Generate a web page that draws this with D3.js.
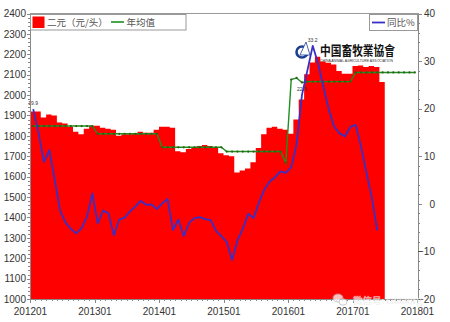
<!DOCTYPE html>
<html>
<head>
<meta charset="utf-8">
<script src="https://cdn.jsdelivr.net/npm/d3@7"></script>
<style>
  html, body { margin: 0; padding: 0; background: #fff; }
  #chart { width: 450px; height: 322px; }
  .axis text { font-family: "Liberation Sans", Arial, sans-serif; font-size: 10px; fill: #333; }
  .axis path, .axis line { stroke: #888; shape-rendering: crispEdges; }
</style>
</head>
<body>
<div id="chart"></div>
<script>
// monthly series, index 0 = 201201
const yearTicks = ['201201', '201301', '201401', '201501', '201601', '201701', '201801'];

// 二元 price (元/头), one value per month 201201..201706
const price = [
  1920, 1920, 1890, 1905, 1900, 1865, 1860, 1845, 1820, 1808, 1835, 1850,
  1850, 1840, 1835, 1830, 1800, 1808, 1808, 1812, 1820, 1815, 1815, 1830,
  1845, 1845, 1840, 1725, 1720, 1735, 1745, 1750, 1755, 1750, 1740, 1715,
  1705, 1700, 1620, 1630, 1640, 1670, 1740, 1808, 1840, 1845, 1835, 1830,
  1810, 1880, 1978, 2102, 2160, 2188, 2165, 2158, 2150, 2118, 2105, 2105,
  2143, 2145, 2138, 2142, 2138, 2064
];

// 年均值, monthly points 201201..201712
const yearAvg = [
  1848, 1848, 1848, 1848, 1848, 1848, 1848, 1848, 1848, 1848, 1848, 1848,
  1810, 1810, 1810, 1810, 1810, 1810, 1810, 1810, 1810, 1810, 1810, 1810,
  1744, 1744, 1744, 1744, 1744, 1744, 1744, 1744, 1744, 1744, 1744, 1744,
  1723, 1723, 1723, 1723, 1723, 1723, 1723, 1723, 1723, 1723, 1723, 1668,
  2076, 2084, 2062, 2066, 2066, 2066, 2066, 2066, 2066, 2066, 2066, 2066,
  2111, 2111, 2111, 2111, 2111, 2111, 2111, 2111, 2111, 2111, 2111, 2111
];

// 同比% (right axis), 201201..201705
const yoy = [
  19.9, 14.8, 8.8, 11.3, 5.1, -1.5, -3.9, -5.3, -6.2, -5.1, -2.7, 2.2,
  -4.1, -1.4, -2.0, -6.6, -3.3, -2.9, -1.6, -0.6, 0.6, -0.2, -0.1, -1.1,
  0.1, 1.0, -5.5, -3.3, -6.8, -4.0, -3.0, -2.8, -3.2, -3.4, -5.7, -6.8,
  -8.0, -11.8, -7.7, -5.2, -2.1, -3.0, 0.3, 3.0, 4.7, 5.6, 6.8, 6.5,
  7.7, 12.5, 22.9, 28.0, 33.2, 29.5, 24.5, 19.8, 16.2, 14.8, 14.2, 16.2,
  16.6, 12.0, 6.5, 1.3, -5.6
];

const leftTicks = [1000, 1100, 1200, 1300, 1400, 1500, 1600, 1700, 1800, 1900, 2000, 2100, 2200, 2300, 2400];
const rightTicks = [-20, -10, 0, 10, 20, 30, 40];

const CONFIG = {
  LEFT: 30, RIGHT: 417, TOP: 13.5, BOTTOM: 299,
  RED: '#ff0000',
  GREEN: '#1f8f1f',
  GREEN_DOT: '#2c5f16',
  BLUE: '#3a2fc4',
  POINT_OFFSET: 0.6   // line points sit inside their month
};

const svg = d3.select('#chart').append('svg')
  .attr('width', 450).attr('height', 322);

const x = d3.scaleLinear().domain([0, 72]).range([CONFIG.LEFT, CONFIG.RIGHT]);
const yL = d3.scaleLinear().domain([1000, 2400]).range([CONFIG.BOTTOM, CONFIG.TOP]);
const yR = d3.scaleLinear().domain([-20, 40]).range([CONFIG.BOTTOM, CONFIG.TOP]);

// red step area: each month is a flat block [i, i+1]
const areaData = price.map((v, i) => [i, v]).concat([[price.length, price[price.length - 1]]]);
svg.append('path')
  .datum(areaData)
  .attr('fill', CONFIG.RED)
  .attr('d', d3.area().curve(d3.curveStepAfter)
    .x(d => x(d[0])).y0(yL(1000)).y1(d => yL(d[1])));

// 年均值 line with dots
const lineL = d3.line().x((d, i) => x(i + CONFIG.POINT_OFFSET)).y(d => yL(d));
svg.append('path').datum(yearAvg)
  .attr('fill', 'none').attr('stroke', CONFIG.GREEN).attr('stroke-width', 1.4)
  .attr('d', lineL);
svg.append('g').selectAll('circle').data(yearAvg).join('circle')
  .attr('cx', (d, i) => x(i + CONFIG.POINT_OFFSET))
  .attr('cy', d => yL(d))
  .attr('r', 1.1)
  .attr('fill', CONFIG.GREEN_DOT);

// 同比 line
svg.append('path').datum(yoy)
  .attr('fill', 'none').attr('stroke', CONFIG.BLUE).attr('stroke-width', 1.8)
  .attr('stroke-linejoin', 'round')
  .attr('d', d3.line().x((d, i) => x(i + CONFIG.POINT_OFFSET)).y(d => yR(d)));

// the few readable point labels
[0, 50, 52].forEach(i => {
  svg.append('text')
    .attr('x', x(i + CONFIG.POINT_OFFSET)).attr('y', yR(yoy[i]) - 4)
    .attr('text-anchor', 'middle')
    .style('font-family', 'Liberation Sans, Arial').style('font-size', '5px')
    .attr('fill', '#333')
    .text(yoy[i].toFixed(1));
});

// frame
svg.append('rect')
  .attr('x', CONFIG.LEFT + 0.5).attr('y', CONFIG.TOP)
  .attr('width', 388).attr('height', CONFIG.BOTTOM - CONFIG.TOP)
  .attr('fill', 'none').attr('stroke', '#999').attr('shape-rendering', 'crispEdges');

/************************ AXES **********************/

// left axis, minor ticks every 20
svg.append('g').attr('class', 'axis')
  .attr('transform', `translate(${CONFIG.LEFT},0)`)
  .call(d3.axisLeft(yL).tickValues(d3.range(1000, 2401, 20)).tickSize(2).tickFormat(''));
svg.append('g').attr('class', 'axis')
  .attr('transform', `translate(${CONFIG.LEFT},0)`)
  .call(d3.axisLeft(yL).tickValues(leftTicks).tickSize(3).tickPadding(1).tickFormat(d3.format('d')));

// right axis
svg.append('g').attr('class', 'axis')
  .attr('transform', `translate(418,0)`)
  .call(d3.axisRight(yR).tickValues(d3.range(-20, 41, 2)).tickSize(2).tickFormat(''));
const rAxis = svg.append('g').attr('class', 'axis')
  .attr('transform', `translate(418,0)`)
  .call(d3.axisRight(yR).tickValues(rightTicks).tickSize(4).tickFormat(d3.format('d')));
rAxis.selectAll('text').attr('text-anchor', 'end').attr('x', 17);
rAxis.selectAll('.tick').filter(d => d === 40).select('text').attr('fill', '#aaa');

// bottom axis: monthly minor ticks, yearly labels
svg.append('g').attr('class', 'axis')
  .attr('transform', `translate(0,${CONFIG.BOTTOM})`)
  .call(d3.axisBottom(x).tickValues(d3.range(0, 73)).tickSize(2).tickFormat(''));
svg.append('g').attr('class', 'axis')
  .attr('transform', `translate(0,${CONFIG.BOTTOM})`)
  .call(d3.axisBottom(x).tickValues(d3.range(0, 73, 12)).tickSize(4).tickPadding(5)
    .tickFormat((d, i) => yearTicks[i]));

/************************ LEGENDS **********************/

const legendFont = '"Noto Sans CJK SC", "Noto Sans", sans-serif';

const legL = svg.append('g');
legL.append('rect').attr('x', 30.5).attr('y', 14.5).attr('width', 155.5).attr('height', 15.5)
  .attr('fill', '#fff').attr('stroke', '#999');
legL.append('rect').attr('x', 32.5).attr('y', 16.5).attr('width', 12).attr('height', 11.5)
  .attr('fill', CONFIG.RED);
legL.append('text').attr('x', 47).attr('y', 25.8).text('二元（元/头）')
  .style('font-family', legendFont).style('font-size', '9.5px').attr('fill', '#555');
legL.append('line').attr('x1', 111).attr('x2', 124).attr('y1', 22).attr('y2', 22)
  .attr('stroke', CONFIG.GREEN).attr('stroke-width', 1.6);
legL.append('text').attr('x', 126.5).attr('y', 25.8).text('年均值')
  .style('font-family', legendFont).style('font-size', '9.5px').attr('fill', '#555');

const legR = svg.append('g');
legR.append('rect').attr('x', 369.5).attr('y', 14.5).attr('width', 48).attr('height', 16)
  .attr('fill', '#fff').attr('stroke', '#999');
legR.append('line').attr('x1', 372).attr('x2', 385).attr('y1', 22.5).attr('y2', 22.5)
  .attr('stroke', CONFIG.BLUE).attr('stroke-width', 1.8);
legR.append('text').attr('x', 387).attr('y', 26.3).text('同比%')
  .style('font-family', legendFont).style('font-size', '9.5px').attr('fill', '#555');

/************************ LOGO & WATERMARK **********************/

const logo = svg.append('g');
logo.append('circle').attr('cx', 302).attr('cy', 52).attr('r', 5.5)
  .attr('fill', 'none').attr('stroke', '#1d3f8f').attr('stroke-width', 2.6);
logo.append('path').attr('d', 'M300,55 L306,42 L310,55 Z').attr('fill', '#fff')
  .attr('stroke', '#1d3f8f').attr('stroke-width', 0.8);
logo.append('text').attr('x', 320).attr('y', 55).text('中国畜牧業協會')
  .attr('textLength', 75).attr('lengthAdjust', 'spacingAndGlyphs')
  .style('font-family', '"Noto Sans CJK TC", serif').style('font-size', '13px')
  .style('font-weight', 'bold').attr('fill', '#111');
logo.append('text').attr('x', 320).attr('y', 61.5).text('CHINA ANIMAL AGRICULTURE ASSOCIATION')
  .attr('textLength', 73).attr('lengthAdjust', 'spacingAndGlyphs')
  .style('font-family', 'Liberation Sans, Arial').style('font-size', '3px').attr('fill', '#333');

// watermark sits on the bottom-right corner, as in the source image
const wm = svg.append('g').attr('opacity', 0.75);
wm.append('ellipse').attr('cx', 338).attr('cy', 298).attr('rx', 5).attr('ry', 4)
  .attr('fill', '#fff').attr('stroke', '#bbb');
wm.append('ellipse').attr('cx', 343).attr('cy', 302).attr('rx', 4).attr('ry', 3.2)
  .attr('fill', '#fff').attr('stroke', '#bbb');
wm.append('text').attr('x', 353).attr('y', 304).text('微信号: caaaorg')
  .style('font-family', legendFont).style('font-size', '9.5px')
  .attr('fill', '#c4c4c4').attr('stroke', '#fff').attr('stroke-width', 0.4);
</script>
</body>
</html>
